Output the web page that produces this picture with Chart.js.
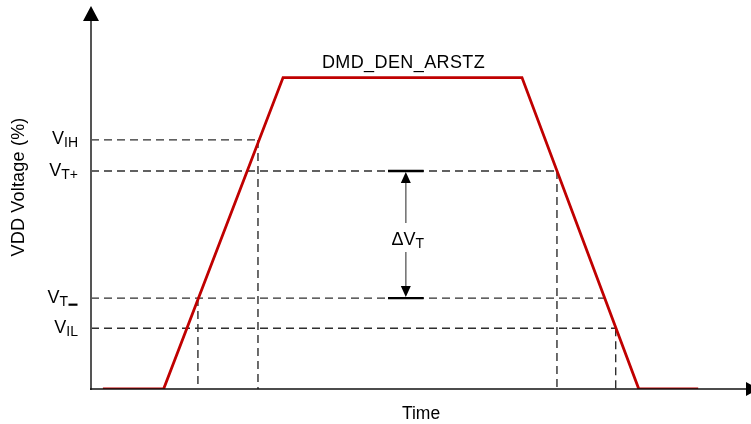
<!DOCTYPE html>
<html>
<head>
<meta charset="utf-8">
<script src="https://cdn.jsdelivr.net/npm/chart.js@4"></script>
<style>
html,body{margin:0;padding:0;background:#fff;}
#c{display:block;}
</style>
</head>
<body>
<canvas id="c" width="751" height="424"></canvas>
<script>
// ---- data ----
const signalName = 'DMD_DEN_ARSTZ';
const waveTime = [1.8, 11, 29.1, 65.3, 83.0, 92.0];
const waveVolt = [0, 0, 100, 100, 0, 0];

const levelSubs = ['IH', 'T+', 'T', 'IL'];
const levelValues = [80, 70, 29.2, 19.5];
const levelEndTime = [25.3, 70.6, 77.9, 79.5];

const dropTime = [16.2, 25.3, 70.6, 79.5];
const dropLevel = [29.2, 80, 70, 19.5];

const deltaTime = 47.7;
const deltaHalf = 2.7;
const deltaTop = 70;
const deltaBottom = 29.2;

const xTitle = 'Time';
const yTitle = 'VDD Voltage (%)';

// ---- datasets ----
const dashStyle = {borderColor: '#2e2e2e', borderWidth: 1.4, borderDash: [8, 5], pointRadius: 0, fill: false, tension: 0};
const datasets = [{
  data: waveTime.map((t, i) => ({x: t, y: waveVolt[i]})),
  borderColor: '#c00000', borderWidth: 2.8, pointRadius: 0, fill: false, tension: 0,
  borderJoinStyle: 'miter', order: 0
}];
levelValues.forEach((v, i) => {
  datasets.push(Object.assign({data: [{x: 0, y: v}, {x: levelEndTime[i], y: v}], order: 2}, dashStyle));
});
dropTime.forEach((t, i) => {
  datasets.push(Object.assign({data: [{x: t, y: dropLevel[i]}, {x: t, y: 0}], order: 2}, dashStyle));
});

const FONT = '"Liberation Sans", Arial, Helvetica, sans-serif';

function drawSubLabel(ctx, main, sub, xRight, baseY, minusAfter) {
  ctx.font = '18px ' + FONT;
  const wM = ctx.measureText(main).width;
  ctx.font = '14px ' + FONT;
  let wS = ctx.measureText(sub).width;
  const wDash = minusAfter ? 10 : 0;
  const x0 = xRight - (wM + wS + wDash);
  ctx.textAlign = 'left';
  ctx.textBaseline = 'alphabetic';
  ctx.font = '18px ' + FONT;
  ctx.fillText(main, x0, baseY);
  ctx.font = '14px ' + FONT;
  ctx.fillText(sub, x0 + wM, baseY + 3);
  if (minusAfter) {
    ctx.fillRect(x0 + wM + wS + 0.5, baseY + 1, 9, 2.2);
  }
}

const decor = {
  id: 'decor',
  afterDatasetsDraw(chart) {
    const ctx = chart.ctx;
    const xs = chart.scales.x, ys = chart.scales.y;
    const x0 = xs.getPixelForValue(0);
    const y0 = ys.getPixelForValue(0);
    const yTop = chart.chartArea.top;
    const xRight = chart.chartArea.right;
    ctx.save();
    // y axis
    ctx.strokeStyle = '#555';
    ctx.lineWidth = 2;
    ctx.beginPath();
    ctx.moveTo(x0, y0 + 1);
    ctx.lineTo(x0, yTop + 15);
    ctx.stroke();
    ctx.fillStyle = '#000';
    ctx.beginPath();
    ctx.moveTo(x0, yTop);
    ctx.lineTo(x0 - 8, yTop + 15);
    ctx.lineTo(x0 + 8, yTop + 15);
    ctx.closePath();
    ctx.fill();
    // x axis
    ctx.strokeStyle = '#111';
    ctx.lineWidth = 1.6;
    ctx.beginPath();
    ctx.moveTo(x0 - 1, y0);
    ctx.lineTo(xRight - 4, y0);
    ctx.stroke();
    ctx.beginPath();
    ctx.moveTo(xRight - 5, y0 - 7);
    ctx.lineTo(xRight + 8, y0);
    ctx.lineTo(xRight - 5, y0 + 7);
    ctx.closePath();
    ctx.fill();

    // level labels
    ctx.fillStyle = '#000';
    levelValues.forEach((v, i) => {
      const py = ys.getPixelForValue(v);
      drawSubLabel(ctx, 'V', levelSubs[i], 78, py + 4.5, i === 2);
    });

    // title
    ctx.font = '18px ' + FONT;
    ctx.textAlign = 'center';
    ctx.textBaseline = 'alphabetic';
    ctx.letterSpacing = '0.4px';
    const px = (xs.getPixelForValue(waveTime[2]) + xs.getPixelForValue(waveTime[3])) / 2;
    ctx.fillText(signalName, px + 1, 67.5);

    // x title
    ctx.letterSpacing = '0px';
    ctx.font = '17.5px ' + FONT;
    ctx.fillText(xTitle, (x0 + xRight) / 2, 418.5);

    // y title
    ctx.save();
    ctx.font = '18px ' + FONT;
    ctx.translate(19.5, 187);
    ctx.rotate(-Math.PI / 2);
    ctx.textBaseline = 'middle';
    ctx.letterSpacing = '0.2px';
    ctx.fillText(yTitle, 0, 0);
    ctx.restore();
    ctx.letterSpacing = '0px';

    // delta arrow
    const ax = xs.getPixelForValue(deltaTime);
    const aL = xs.getPixelForValue(deltaTime - deltaHalf);
    const aR = xs.getPixelForValue(deltaTime + deltaHalf);
    const aT = ys.getPixelForValue(deltaTop);
    const aB = ys.getPixelForValue(deltaBottom);
    ctx.strokeStyle = '#000';
    ctx.lineWidth = 2.4;
    ctx.beginPath();
    ctx.moveTo(aL, aT); ctx.lineTo(aR, aT);
    ctx.moveTo(aL, aB); ctx.lineTo(aR, aB);
    ctx.stroke();
    ctx.strokeStyle = '#777';
    ctx.lineWidth = 1.6;
    ctx.beginPath();
    ctx.moveTo(ax, aT + 10); ctx.lineTo(ax, 223);
    ctx.moveTo(ax, 252); ctx.lineTo(ax, aB - 10);
    ctx.stroke();
    ctx.fillStyle = '#000';
    ctx.beginPath();
    ctx.moveTo(ax, aT + 1); ctx.lineTo(ax - 5, aT + 12); ctx.lineTo(ax + 5, aT + 12); ctx.closePath();
    ctx.moveTo(ax, aB - 1); ctx.lineTo(ax - 5, aB - 12); ctx.lineTo(ax + 5, aB - 12); ctx.closePath();
    ctx.fill();
    // delta label
    ctx.font = '18px ' + FONT;
    const wD = ctx.measureText('\u0394V').width;
    ctx.font = '14px ' + FONT;
    const wT = ctx.measureText('T').width;
    const lx = ax + 2 - (wD + wT) / 2;
    ctx.textAlign = 'left';
    ctx.font = '18px ' + FONT;
    ctx.fillText('\u0394V', lx, 245);
    ctx.font = '14px ' + FONT;
    ctx.fillText('T', lx + wD, 248);
    ctx.restore();
  }
};

new Chart(document.getElementById('c'), {
  type: 'line',
  data: {datasets},
  options: {
    responsive: false,
    animation: false,
    layout: {padding: {left: 91, top: 6, right: 0, bottom: 35}},
    plugins: {legend: {display: false}, tooltip: {enabled: false}, title: {display: false}},
    scales: {
      x: {type: 'linear', min: 0, max: 100, display: false},
      y: {type: 'linear', min: 0, max: 123, display: false}
    }
  },
  plugins: [decor]
});
</script>
</body>
</html>
